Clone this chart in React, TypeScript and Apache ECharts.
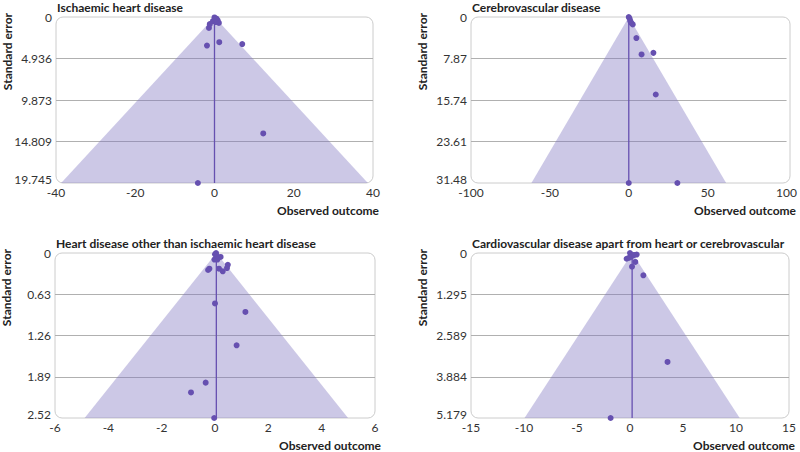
import React, { useEffect, useRef } from "react";
import * as echarts from "echarts";

// ---------- data ----------
const titles = [
  "Ischaemic heart disease",
  "Cerebrovascular disease",
  "Heart disease other than ischaemic heart disease",
  "Cardiovascular disease apart from heart or cerebrovascular",
];
const maxSE = [19.745, 31.48, 2.52, 5.179];
const pooled = [0, 0, 0.05, 0.2];
const xMins = [-40, -100, -6, -15];
const xMaxs = [40, 100, 6, 15];
const xSteps = [20, 50, 2, 5];
const yTickLabels1 = ["0", "4.936", "9.873", "14.809", "19.745"];
const yTickLabels2 = ["0", "7.87", "15.74", "23.61", "31.48"];
const yTickLabels3 = ["0", "0.63", "1.26", "1.89", "2.52"];
const yTickLabels4 = ["0", "1.295", "2.589", "3.884", "5.179"];

const obs1 = [-4.2, 12.3, 7.0, 1.2, -1.9, -1.4, -1.2, 1.1, 0, 0.5, 0.8, -0.4, 0.3, 0.2];
const se1 = [19.745, 13.85, 3.22, 3.0, 3.4, 1.3, 0.85, 0.7, 0.05, 0.2, 0.4, 0.5, 0.6, 0.3];
const obs2 = [0, 30.8, 17.1, 15.6, 8.1, 4.8, 2.5, 1.5, 0, 0.5, 1];
const se2 = [31.48, 31.48, 14.7, 6.8, 7.1, 4.0, 1.4, 1.1, 0, 0.3, 0.8];
const obs3 = [-0.03, -0.9, -0.35, 0.81, 1.14, 0, -0.26, -0.21, 0.15, 0.29, 0.45, 0.48, 0.21, -0.02, 0.09, 0.04, 0.06, 0.0];
const se3 = [2.52, 2.13, 1.98, 1.41, 0.9, 0.77, 0.26, 0.24, 0.24, 0.28, 0.23, 0.18, 0.06, 0.1, 0.1, 0, 0.04, 0.02];
const obs4 = [-1.83, 3.54, 1.26, 0.19, 0.5, 0.63, -0.32, 0, 0.3, 0.1, -0.1, 0.4];
const se4 = [5.179, 3.42, 0.7, 0.43, 0.28, 0.05, 0.18, 0, 0.07, 0.12, 0.15, 0.06];

const yTickLabels = [yTickLabels1, yTickLabels2, yTickLabels3, yTickLabels4];
const obsAll = [obs1, obs2, obs3, obs4];
const seAll = [se1, se2, se3, se4];

// ---------- layout ----------
const grids = [
  { left: 56, top: 17, width: 317, height: 166 },
  { left: 471, top: 17, width: 319, height: 166 },
  { left: 55, top: 253, width: 320, height: 165 },
  { left: 471, top: 253, width: 318, height: 165 },
];
const FONT = "Lato, 'Noto Sans', sans-serif";
const PURPLE = "#6650b0";
const FUNNEL = "rgba(127,117,192,0.4)";

export default function App() {
  const ref = useRef<HTMLDivElement>(null);
  useEffect(() => {
    if (!ref.current) return;
    const chart = echarts.init(ref.current, undefined, { renderer: "svg" });

    const series: any[] = [];
    const graphic: any[] = [];
    grids.forEach((g, i) => {
      graphic.push({
        type: "rect",
        z: -10,
        silent: true,
        shape: { x: g.left, y: g.top, width: g.width, height: g.height, r: 7 },
        style: { fill: "#fff", stroke: "#cccccc", lineWidth: 1 },
      });
      graphic.push({
        type: "text",
        x: g.left + 1,
        y: g.top - 10,
        style: {
          text: titles[i],
          font: `bold 12px ${FONT}`,
          fill: "#222",
          verticalAlign: "middle",
        },
      });
      graphic.push({
        type: "text",
        x: g.left + g.width + 6,
        y: g.top + g.height + 27,
        style: {
          text: "Observed outcome",
          font: `bold 12px ${FONT}`,
          fill: "#222",
          align: "right",
          verticalAlign: "middle",
        },
      });
      graphic.push({
        type: "text",
        x: g.left - 49,
        y: g.top - 4,
        rotation: Math.PI / 2,
        style: {
          text: "Standard error",
          font: `bold 12px ${FONT}`,
          fill: "#222",
          align: "right",
          verticalAlign: "middle",
        },
      });

      series.push({
        type: "custom",
        xAxisIndex: i,
        yAxisIndex: i,
        silent: true,
        z: 1,
        data: [[pooled[i], maxSE[i]]],
        renderItem: (_p: any, api: any) => {
          const c = api.value(0);
          const m = api.value(1);
          const top = api.coord([c, 0]);
          const bl = api.coord([c - 1.96 * m, m]);
          const br = api.coord([c + 1.96 * m, m]);
          return {
            type: "polygon",
            shape: { points: [top, bl, br] },
            style: { fill: FUNNEL },
          };
        },
      });
      series.push({
        type: "line",
        xAxisIndex: i,
        yAxisIndex: i,
        silent: true,
        symbol: "none",
        z: 3,
        lineStyle: { color: PURPLE, width: 1.3 },
        data: [
          [pooled[i], 0],
          [pooled[i], maxSE[i]],
        ],
      });
      series.push({
        type: "scatter",
        xAxisIndex: i,
        yAxisIndex: i,
        symbolSize: 6,
        z: 4,
        itemStyle: { color: PURPLE, opacity: 1 },
        data: obsAll[i].map((x, k) => [x, seAll[i][k]]),
      });
    });

    chart.setOption({
      animation: false,
      grid: grids.map((g) => ({ ...g, containLabel: false })),
      xAxis: grids.map((_, i) => ({
        type: "value",
        gridIndex: i,
        min: xMins[i],
        max: xMaxs[i],
        interval: xSteps[i],
        axisLine: { show: false },
        axisTick: { show: false },
        splitLine: { show: false },
        axisLabel: { color: "#333", fontSize: 12, fontFamily: FONT, margin: 3 },
      })),
      yAxis: grids.map((_, i) => ({
        type: "value",
        gridIndex: i,
        inverse: true,
        min: 0,
        max: maxSE[i],
        interval: maxSE[i] / 4,
        axisLine: { show: false },
        axisTick: { show: false },
        splitLine: {
          show: true,
          showMinLine: false,
          showMaxLine: false,
          lineStyle: { color: "#b0b0b0", width: 1 },
        },
        axisLabel: {
          color: "#333",
          fontSize: 12,
          fontFamily: FONT,
          margin: 4,
          formatter: (_v: number, idx: number) => {
            const t = yTickLabels[i][idx] ?? "";
            return idx === yTickLabels[i].length - 1 ? `{last|${t}}` : t;
          },
          rich: {
            last: {
              color: "#333",
              fontSize: 12,
              fontFamily: FONT,
              padding: [0, 0, 8, 0],
            },
          },
        },
      })),
      graphic,
      series,
    });
    return () => chart.dispose();
  }, []);
  return (
    <div
      ref={ref}
      style={{ position: "absolute", left: 0, top: 0, width: 800, height: 452 }}
    />
  );
}
